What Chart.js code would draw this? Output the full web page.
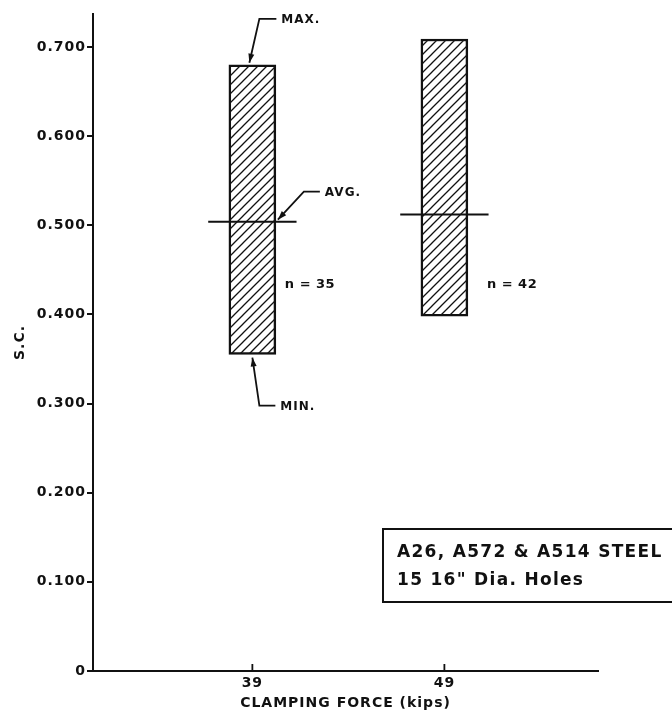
<!DOCTYPE html>
<html>
<head>
<meta charset="utf-8">
<script src="https://cdn.jsdelivr.net/npm/chart.js@4/dist/chart.umd.min.js"></script>
<style>
body { margin: 0; background: #fff; }
canvas { display: block; }
</style>
</head>
<body>
<canvas id="chart" width="672" height="716"></canvas>
<script>
// clamping force groups and slip coefficient stats
var categories = [39, 49];
var maxValues = [0.680, 0.709];
var minValues = [0.355, 0.398];
var avgValues = [0.504, 0.512];
var sampleSizes = [35, 42];
var yTickValues = [0, 0.1, 0.2, 0.3, 0.4, 0.5, 0.6, 0.7];
var xTickValues = [39, 49];
var noteLines = ['A26, A572 & A514 STEEL', '15 16" Dia. Holes'];

var FONT = '"DejaVu Sans", sans-serif';
var ink = '#111';

// diagonal hatch for the bars
function hatch() {
	var c = document.createElement('canvas');
	c.width = c.height = 9;
	var g = c.getContext('2d');
	g.fillStyle = '#fff';
	g.fillRect(0, 0, 9, 9);
	g.strokeStyle = ink;
	g.lineWidth = 1.3;
	g.beginPath();
	g.moveTo(0, 9); g.lineTo(9, 0);
	g.moveTo(-1, 1); g.lineTo(1, -1);
	g.moveTo(8, 10); g.lineTo(10, 8);
	g.stroke();
	return g.createPattern(c, 'repeat');
}

var avgHalf = 2.3; // kips either side of the bar centre

var datasets = [{
	type: 'bar',
	order: 2,
	data: categories.map((c, i) => ({x: c, y: [minValues[i], maxValues[i]]})),
	backgroundColor: hatch(),
	borderColor: ink,
	borderWidth: 2.5,
	borderSkipped: false,
	barThickness: 47
}];
categories.forEach((c, i) => {
	datasets.push({
		type: 'line',
		order: 1,
		data: [{x: c - avgHalf, y: avgValues[i]}, {x: c + avgHalf, y: avgValues[i]}],
		borderColor: ink,
		borderWidth: 2,
		pointRadius: 0,
		fill: false
	});
});

function arrow(ctx, fx, fy, tx, ty) {
	var a = Math.atan2(ty - fy, tx - fx);
	ctx.beginPath();
	ctx.moveTo(tx, ty);
	ctx.lineTo(tx - 9 * Math.cos(a) + 3 * Math.sin(a), ty - 9 * Math.sin(a) - 3 * Math.cos(a));
	ctx.lineTo(tx - 9 * Math.cos(a) - 3 * Math.sin(a), ty - 9 * Math.sin(a) + 3 * Math.cos(a));
	ctx.closePath();
	ctx.fill();
}

function leader(ctx, pts, label) {
	ctx.beginPath();
	ctx.moveTo(pts[0][0], pts[0][1]);
	for (var i = 1; i < pts.length; i++) ctx.lineTo(pts[i][0], pts[i][1]);
	ctx.stroke();
	arrow(ctx, pts[1][0], pts[1][1], pts[0][0], pts[0][1]);
	var end = pts[pts.length - 1];
	ctx.fillText(label, end[0] + 5, end[1] + 1);
}

var notes = {
	id: 'notes',
	beforeDraw(chart) {
		chart.ctx.letterSpacing = '1px';
	},
	afterDraw(chart) {
		var ctx = chart.ctx;
		var xs = chart.scales.x, ys = chart.scales.y;
		ctx.save();
		ctx.strokeStyle = ink;
		ctx.fillStyle = ink;
		ctx.lineWidth = 1.8;

		// inward tick marks on the x axis
		xTickValues.forEach(v => {
			var px = xs.getPixelForValue(v);
			ctx.beginPath();
			ctx.moveTo(px, ys.bottom);
			ctx.lineTo(px, ys.bottom - 7);
			ctx.stroke();
		});

		ctx.font = 'bold 12px ' + FONT;
		ctx.textAlign = 'left';
		ctx.textBaseline = 'middle';
		var bar = chart.getDatasetMeta(0).data[0];
		var cx = bar.x, half = bar.width / 2;
		var top = ys.getPixelForValue(maxValues[0]);
		var bot = ys.getPixelForValue(minValues[0]);
		var avg = ys.getPixelForValue(avgValues[0]);
		leader(ctx, [[cx - 3, top - 2], [cx + 7, top - 46], [cx + 24, top - 46]], 'MAX.');
		leader(ctx, [[cx + half + 2, avg - 2], [cx + half + 28, avg - 30], [cx + half + 44, avg - 30]], 'AVG.');
		leader(ctx, [[cx, bot + 3], [cx + 7, bot + 51], [cx + 23, bot + 51]], 'MIN.');

		// sample sizes
		ctx.font = 'bold 13px ' + FONT;
		ctx.letterSpacing = '0.5px';
		var nOffsets = [9, 19];
		chart.getDatasetMeta(0).data.forEach((b, i) => {
			ctx.fillText('n = ' + sampleSizes[i], b.x + b.width / 2 + nOffsets[i], ys.getPixelForValue(0.433));
		});

		// material note box
		ctx.lineWidth = 2;
		ctx.strokeRect(383, 529, 320, 73);
		ctx.font = 'bold 17px ' + FONT;
		ctx.letterSpacing = '1.3px';
		ctx.fillText(noteLines[0], 397, 553);
		ctx.fillText(noteLines[1], 397, 581);
		ctx.restore();
	}
};

new Chart(document.getElementById('chart'), {
	type: 'bar',
	data: {datasets: datasets},
	options: {
		responsive: false,
		animation: false,
		layout: {padding: {top: 14, right: 74, left: 0, bottom: 0}},
		plugins: {legend: {display: false}, tooltip: {enabled: false}},
		scales: {
			x: {
				type: 'linear',
				offset: false,
				min: 30.7,
				max: 57,
				afterBuildTicks: (s) => { s.ticks = xTickValues.map(v => ({value: v})); },
				afterFit: (s) => { s.height = 45; },
				grid: {display: false, drawTicks: false},
				border: {color: ink, width: 2},
				ticks: {color: ink, padding: 4, font: {family: FONT, size: 14, weight: 'bold'}},
				title: {display: true, text: 'CLAMPING FORCE (kips)', color: ink, padding: 4,
					font: {family: FONT, size: 14, weight: 'bold'}}
			},
			y: {
				min: 0,
				max: 0.737,
				afterBuildTicks: (s) => { s.ticks = yTickValues.map(v => ({value: v})); },
				afterFit: (s) => { s.width = 93; },
				grid: {drawOnChartArea: false, drawTicks: true, tickLength: 6, color: ink, lineWidth: 2},
				border: {color: ink, width: 2},
				ticks: {
					color: ink, padding: 1,
					font: {family: FONT, size: 14, weight: 'bold'},
					callback: (v) => v === 0 ? '0' : v.toFixed(3)
				},
				title: {display: true, text: 'S.C.', color: ink, padding: 12,
					font: {family: FONT, size: 14, weight: 'bold'}}
			}
		}
	},
	plugins: [notes]
});
</script>
</body>
</html>
